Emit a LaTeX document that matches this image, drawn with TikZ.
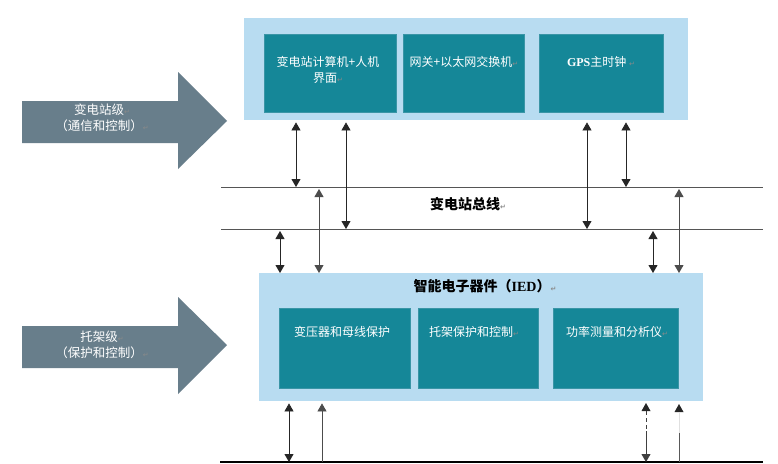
\documentclass[tikz,border=0pt]{standalone}
\usepackage{fontspec}
\setmainfont{Liberation Serif}
\newfontfamily\cjk{Noto Sans CJK SC}
\newfontfamily\symfont{DejaVu Sans}
\usetikzlibrary{arrows.meta}
\definecolor{panelblue}{HTML}{B8DCF1}
\definecolor{boxteal}{HTML}{158798}
\definecolor{boxedge}{HTML}{3A95A6}
\definecolor{slate}{HTML}{687E8B}
\definecolor{retgray}{HTML}{8A8A8A}
\definecolor{busgray}{HTML}{555555}
\newcommand\retmark{{\symfont\color{retgray}\fontsize{7}{7}\selectfont ↵}}
\tikzset{
  panel/.style={fill=panelblue, draw=none, anchor=north west, inner sep=0pt},
  ibox/.style={fill=boxteal, draw=boxedge, line width=0.8pt, anchor=north west, inner sep=0pt},
  lbl/.style={text=white, font=\cjk\fontsize{12}{16}\selectfont, align=center, inner sep=0pt},
  arrtxt/.style={text=white, font=\cjk\fontsize{12.5}{16}\selectfont, align=center, inner sep=0pt},
  bigarrow/.style={fill=slate, draw=none},
  busline/.style={draw=busgray, line width=0.9pt},
  tip/.tip={Triangle[width=9pt,length=8pt]},
  dbl/.style={tip-tip, line width=0.8pt, draw=black!85},
  uparrow/.style={-tip, line width=0.8pt, draw=black!70},
}
\begin{document}
\begin{tikzpicture}[x=1pt,y=-1pt]
\useasboundingbox[fill=white] (0,0) rectangle (778,463);

% left level arrows
\path[bigarrow] (22,101) -- (178,101) -- (178,72) -- (227,121) -- (178,169) -- (178,143) -- (22,143) -- cycle;
\node[arrtxt] (lvl1) at (102,118) {变电站级\retmark\\（通信和控制）\retmark};
\path[bigarrow] (22,326) -- (178,326) -- (178,297) -- (227,345) -- (178,394) -- (178,368) -- (22,368) -- cycle;
\node[arrtxt] (lvl2) at (102,345) {托架级\retmark\\（保护和控制）\retmark};

% station panel
\node[panel, minimum width=444pt, minimum height=102pt] (top) at (244,18) {};
\node[ibox, minimum width=132pt, minimum height=78pt] (s1) at (264,34) {};
\node[ibox, minimum width=121pt, minimum height=78pt] (s2) at (403,34) {};
\node[ibox, minimum width=124pt, minimum height=78pt] (s3) at (539,34) {};
\node[lbl] (s1t) at (328,70) {变电站计算机+人机\\界面\retmark};
\node[lbl] (s2t) at (464,62) {网关+以太网交换机\retmark};
\node[lbl] (s3t) at (601,62) {{\rmfamily\bfseries GPS}主时钟 \retmark};

% buses
\coordinate (b1L) at (221,187); \coordinate (b1R) at (763,187);
\coordinate (b2L) at (221,229); \coordinate (b2R) at (763,229);
\coordinate (b3L) at (220,462); \coordinate (b3R) at (763,462);
\draw[busline] (b1L) -- (b1R);
\draw[busline] (b2L) -- (b2R);
\draw[draw=black, line width=1.3pt] (b3L) -- (b3R);
\node[font=\cjk\bfseries\fontsize{14}{14}\selectfont, inner sep=0pt] (bustxt) at (468,204) {变电站总线\retmark};

% IED panel
\node[panel, minimum width=444pt, minimum height=128pt] (ied) at (259,273) {};
\node[font=\bfseries\fontsize{14}{14}\selectfont, inner sep=0pt] (iedt) at (485,286) {{\cjk 智能电子器件（}IED{\cjk ）}\retmark};
\node[ibox, minimum width=131pt, minimum height=80pt] (i1) at (279,308) {};
\node[ibox, minimum width=120pt, minimum height=80pt] (i2) at (418,308) {};
\node[ibox, minimum width=125pt, minimum height=80pt] (i3) at (553,308) {};
\node[lbl] (i1t) at (342,332) {变压器和母线保护};
\node[lbl] (i2t) at (474,332) {托架保护和控制\retmark};
\node[lbl] (i3t) at (617,332) {功率测量和分析仪\retmark};

% column coordinates
\coordinate (c1) at (296,0);
\coordinate (c2) at (346,0);
\coordinate (c3) at (587,0);
\coordinate (c4) at (626,0);
\coordinate (d1) at (280,0);
\coordinate (d2) at (319,0);
\coordinate (d3) at (653,0);
\coordinate (d4) at (679,0);
\coordinate (e1) at (289,0);
\coordinate (e2) at (322,0);
\coordinate (e3) at (646,0);
\coordinate (e4) at (679,0);
\coordinate (e3top) at (646,403);
\coordinate (e3mid) at (646,431);
\coordinate (e4top) at (679,404);
\coordinate (e4mid) at (679,433);

% station panel <-> buses
\draw[dbl] ([yshift=-2pt]top.south -| c1) -- (b1L -| c1);
\draw[dbl] ([yshift=-2pt]top.south -| c2) -- (b2L -| c2);
\draw[dbl] ([yshift=-2pt]top.south -| c3) -- (b2L -| c3);
\draw[dbl] ([yshift=-2pt]top.south -| c4) -- (b1L -| c4);

% buses <-> IED panel
\draw[dbl] ([yshift=-2pt]b2L -| d1) -- (ied.north -| d1);
\draw[dbl, draw=black!70] ([yshift=-2pt]b1L -| d2) -- (ied.north -| d2);
\draw[dbl] ([yshift=-2pt]b2L -| d3) -- (ied.north -| d3);
\draw[dbl, draw=black!70] ([yshift=-2pt]b1L -| d4) -- (ied.north -| d4);

% IED panel <-> bottom bus
\draw[dbl] ([yshift=-2pt]ied.south -| e1) -- (b3L -| e1);
\draw[uparrow] (b3L -| e2) -- ([yshift=-2pt]ied.south -| e2);
% partly dashed double arrow
\fill[black!85] (e3top) -- ++(-4.5,8) -- ++(9,0) -- cycle;
\draw[line width=0.8pt, draw=black!75, dash pattern=on 4pt off 3pt] ([yshift=-8pt]e3top) -- (e3mid);
\draw[-tip, line width=0.8pt, draw=black!75] (e3mid) -- (b3L -| e3);
% partly faded up arrow
\fill[black!85] (e4top) -- ++(-4.5,8) -- ++(9,0) -- cycle;
\draw[line width=0.8pt, draw=black!12] ([yshift=-8pt]e4top) -- (e4mid);
\draw[line width=0.8pt, draw=black!65] (b3L -| e4) -- (e4mid);
\end{tikzpicture}
\end{document}
